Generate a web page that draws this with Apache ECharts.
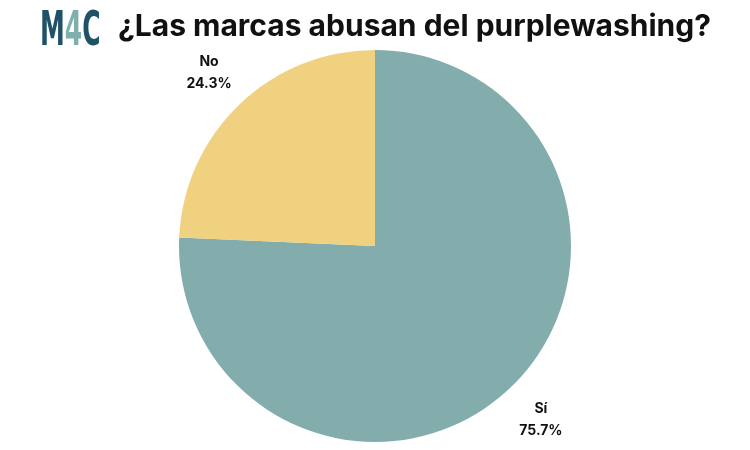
<!DOCTYPE html>
<html><head><meta charset="utf-8">
<script src="https://cdn.jsdelivr.net/npm/echarts@6/dist/echarts.min.js"></script>
<style>html,body{margin:0;padding:0;background:#fff}#c{width:750px;height:450px}</style>
</head><body><div id="c"></div>
<script>
const categories = ['Sí', 'No'];
const values = [75.7, 24.3];
const colors = ['#82adac', '#f0d17f'];
const titleText = '¿Las marcas abusan del purplewashing?';
const logoParts = ['M', '4', 'C'];

const chart = echarts.init(document.getElementById('c'), null, {renderer: 'canvas'});
const mainData = categories.map((c, i) => ({name: c, value: values[i], itemStyle: {color: colors[i]}}));
const labelData = categories.map((c, i) => ({name: c, value: values[i]}));
chart.setOption({
  backgroundColor: '#fff',
  animation: false,
  graphic: [{
    type: 'text',
    x: 40, y: 9,
    scaleX: 0.52,
    style: {
      text: '{m|' + logoParts[0] + '}{f|' + logoParts[1] + '}{m|' + logoParts[2] + '}',
      rich: {
        m: {fontFamily: 'DejaVu Sans', fontSize: 48, fill: '#1f5266', fontWeight: 'bold'},
        f: {fontFamily: 'DejaVu Sans', fontSize: 48, fill: '#7fb0ae', fontWeight: 'bold'}
      }
    }
  }],
  title: [{
    text: titleText,
    left: 113, top: 7,
    textStyle: {fontFamily: 'Inter', fontWeight: 'bold', fontSize: 30, color: '#111'}
  }],
  series: [{
    type: 'pie',
    center: [375, 246],
    radius: [0, 196],
    startAngle: 90,
    clockwise: true,
    data: mainData,
    label: {show: false},
    labelLine: {show: false},
    silent: true
  }, {
    type: 'pie',
    center: [375, 246],
    radius: [196, 278],
    startAngle: 90,
    clockwise: true,
    data: labelData,
    itemStyle: {color: 'rgba(0,0,0,0)'},
    silent: true,
    label: {
      show: true,
      position: 'inside',
      formatter: p => p.name + '\n' + p.value.toFixed(1) + '%',
      fontFamily: 'Inter', fontWeight: 'bold', fontSize: 14, color: '#111',
      lineHeight: 22, align: 'center'
    },
    labelLine: {show: false}
  }]
});
</script></body></html>
